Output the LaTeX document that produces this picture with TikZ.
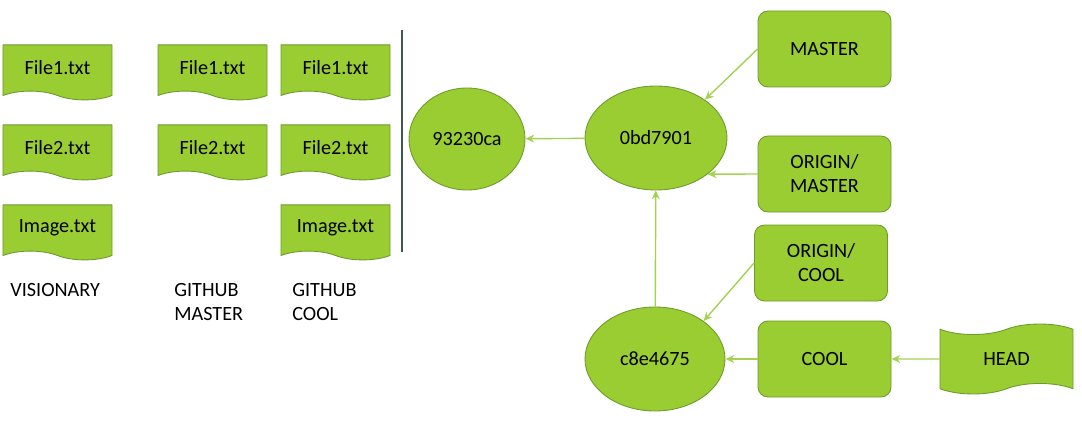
\documentclass[tikz,border=0pt]{standalone}
\usepackage{fontspec}
\setmainfont{Carlito}
\usetikzlibrary{positioning, arrows.meta, shapes.geometric, shapes.symbols}

\definecolor{leaf}{HTML}{9ACD32}
\definecolor{leafedge}{HTML}{6F9A2C}
\definecolor{leafline}{HTML}{A5D152}
\definecolor{divider}{HTML}{3F5A4C}

\begin{document}
\begin{tikzpicture}[
    >={Stealth[length=5pt, width=4.5pt]},
    font=\fontsize{11.5}{13.6}\selectfont,
    file/.style={tape, tape bend top=none, tape bend bottom=out and in, tape bend height=5pt,
        draw=leafedge, fill=leaf, line width=0.5pt, minimum width=2.18cm, minimum height=1.1cm,
        inner sep=0pt},
    commit/.style={ellipse, draw=leafedge, fill=leaf, line width=0.5pt, inner sep=0pt},
    branch/.style={rectangle, rounded corners=0.2cm, draw=leafedge, fill=leaf, line width=0.5pt,
        minimum width=2.66cm, minimum height=1.52cm, align=center, inner sep=0pt},
    arr/.style={->, draw=leafline, line width=0.8pt},
    caption/.style={anchor=north west, align=left, inner sep=0pt}
]
    \useasboundingbox (0,0) rectangle (21.64,8.48);

    % --- Arquivos ---
    \node[file] (vf1) at (1.15, 7.12) {File1.txt};
    \node[file] (vf2) at (1.15, 5.52) {File2.txt};
    \node[file] (vimg) at (1.15, 3.92) {Image.txt};

    \node[file] (mf1) at (4.25, 7.12) {File1.txt};
    \node[file] (mf2) at (4.25, 5.52) {File2.txt};

    \node[file] (cf1) at (6.71, 7.12) {File1.txt};
    \node[file] (cf2) at (6.71, 5.52) {File2.txt};
    \node[file] (cimg) at (6.71, 3.92) {Image.txt};

    \node[caption] (visionary) at (0.2, 2.82) {VISIONARY};
    \node[caption] (ghmaster) at (3.48, 2.82) {GITHUB\\MASTER};
    \node[caption] (ghcool) at (5.84, 2.82) {GITHUB\\COOL};

    % --- Separador ---
    \coordinate (sep_top) at (8.04, 7.88);
    \coordinate (sep_bot) at (8.04, 3.44);
    \draw[divider, line width=1.7pt] (sep_top) -- (sep_bot);

    % --- Commits ---
    \node[commit, minimum width=2.32cm, minimum height=2.04cm] (c1) at (9.34, 5.70) {93230ca};
    \node[commit, minimum width=2.84cm, minimum height=2.08cm] (c2) at (13.12, 5.72) {0bd7901};
    \node[commit, minimum width=2.80cm, minimum height=2.08cm] (c3) at (13.10, 1.30) {c8e4675};

    % --- Branches ---
    \node[branch] (master) at (16.49, 7.50) {MASTER};
    \node[branch] (omaster) at (16.49, 5.00) {ORIGIN/\\MASTER};
    \node[branch] (ocool) at (16.42, 3.22) {ORIGIN/\\COOL};
    \node[branch] (cool) at (16.49, 1.30) {COOL};

    % HEAD (fita ondulada)
    \node[tape, tape bend top=in and out, tape bend bottom=in and out, tape bend height=6pt,
        draw=leafedge, fill=leaf, line width=0.5pt, minimum width=2.66cm, minimum height=1.4cm]
        (head) at (20.13, 1.30) {HEAD};

    % --- Conexões ---
    \draw[arr] (c2) -- (c1);
    \draw[arr] (c3) -- (c2);
    \draw[arr] (master.west) -- (c2.38);
    \draw[arr] (omaster.west) -- (c2.-35);
    \draw[arr] (ocool.west) -- (c3.38);
    \draw[arr] (cool) -- (c3);
    \draw[arr] (head) -- (cool);

\end{tikzpicture}
\end{document}
